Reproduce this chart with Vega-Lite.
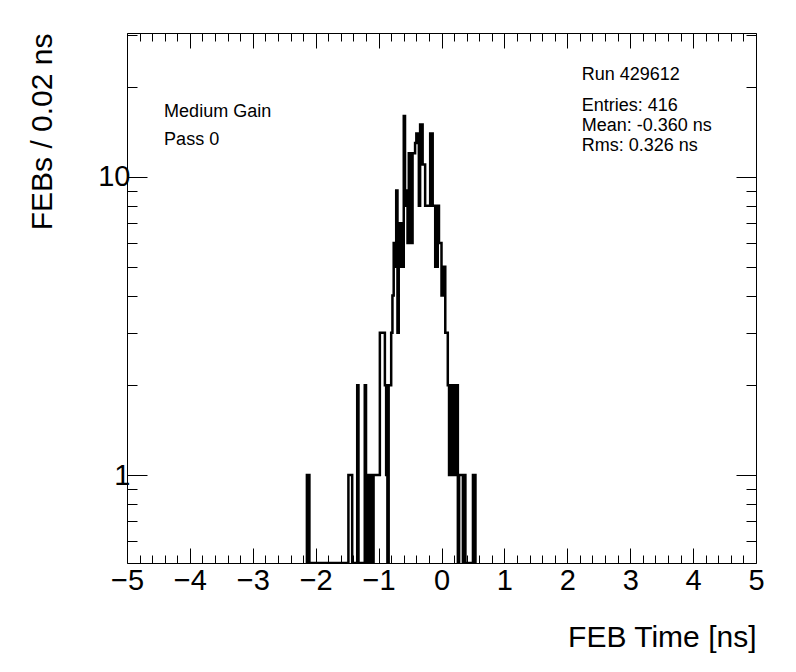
{
  "$schema": "https://vega.github.io/schema/vega-lite/v6.json",
  "width": 629,
  "height": 530,
  "autosize": "none",
  "padding": {"left": 127, "top": 33, "right": 40, "bottom": 109},
  "background": "white",
  "config": {
    "view": {"stroke": "black", "strokeWidth": 1},
    "font": "Liberation Sans",
    "axis": {
      "domain": false,
      "grid": false,
      "tickColor": "black",
      "tickWidth": 1,
      "labelColor": "black",
      "titleColor": "black",
      "labelFont": "Liberation Sans",
      "titleFont": "Liberation Sans",
      "labelFontSize": 29,
      "titleFontSize": 30,
      "titleFontWeight": "normal",
      "labelOverlap": false,
      "labelFlush": false
    }
  },
  "data": {
    "values": [
      {"t": -2.16, "n": 0}, {"t": -2.14, "n": 1}, {"t": -2.12, "n": 1}, {"t": -2.10, "n": 0},
      {"t": -1.48, "n": 1}, {"t": -1.46, "n": 1}, {"t": -1.44, "n": 1}, {"t": -1.42, "n": 0},
      {"t": -1.34, "n": 2}, {"t": -1.32, "n": 0},
      {"t": -1.22, "n": 2}, {"t": -1.20, "n": 0},
      {"t": -1.16, "n": 1}, {"t": -1.14, "n": 0}, {"t": -1.12, "n": 1}, {"t": -1.10, "n": 0},
      {"t": -1.08, "n": 1}, {"t": -1.06, "n": 1}, {"t": -1.04, "n": 1}, {"t": -1.02, "n": 1}, {"t": -1.00, "n": 1},
      {"t": -0.98, "n": 3}, {"t": -0.96, "n": 3}, {"t": -0.94, "n": 3}, {"t": -0.92, "n": 3},
      {"t": -0.90, "n": 2}, {"t": -0.88, "n": 1}, {"t": -0.86, "n": 0}, {"t": -0.84, "n": 2},
      {"t": -0.82, "n": 2}, {"t": -0.80, "n": 3}, {"t": -0.78, "n": 4}, {"t": -0.76, "n": 6},
      {"t": -0.74, "n": 5}, {"t": -0.72, "n": 9}, {"t": -0.70, "n": 3}, {"t": -0.68, "n": 7},
      {"t": -0.66, "n": 7}, {"t": -0.64, "n": 5}, {"t": -0.62, "n": 5}, {"t": -0.60, "n": 16},
      {"t": -0.58, "n": 8}, {"t": -0.56, "n": 9}, {"t": -0.54, "n": 6}, {"t": -0.52, "n": 12},
      {"t": -0.50, "n": 12}, {"t": -0.48, "n": 6}, {"t": -0.46, "n": 12}, {"t": -0.44, "n": 12},
      {"t": -0.42, "n": 13}, {"t": -0.40, "n": 14}, {"t": -0.38, "n": 14}, {"t": -0.36, "n": 8},
      {"t": -0.34, "n": 15}, {"t": -0.32, "n": 15}, {"t": -0.30, "n": 11}, {"t": -0.28, "n": 11},
      {"t": -0.26, "n": 8}, {"t": -0.24, "n": 8}, {"t": -0.22, "n": 8}, {"t": -0.20, "n": 8},
      {"t": -0.18, "n": 14}, {"t": -0.16, "n": 14}, {"t": -0.14, "n": 8}, {"t": -0.12, "n": 8},
      {"t": -0.10, "n": 5}, {"t": -0.08, "n": 5}, {"t": -0.06, "n": 8}, {"t": -0.04, "n": 6},
      {"t": -0.02, "n": 6}, {"t": 0.00, "n": 4}, {"t": 0.02, "n": 5}, {"t": 0.04, "n": 5},
      {"t": 0.06, "n": 3}, {"t": 0.08, "n": 3}, {"t": 0.10, "n": 2}, {"t": 0.12, "n": 1},
      {"t": 0.14, "n": 2}, {"t": 0.16, "n": 1}, {"t": 0.18, "n": 2}, {"t": 0.20, "n": 2},
      {"t": 0.22, "n": 1}, {"t": 0.24, "n": 2}, {"t": 0.26, "n": 0}, {"t": 0.28, "n": 1},
      {"t": 0.30, "n": 1}, {"t": 0.32, "n": 1}, {"t": 0.34, "n": 0}, {"t": 0.36, "n": 1},
      {"t": 0.38, "n": 0}, {"t": 0.50, "n": 1}, {"t": 0.52, "n": 1}, {"t": 0.54, "n": 0}
    ]
  },
  "layer": [
    {
      "mark": {"type": "line", "interpolate": "step-after", "color": "black", "strokeWidth": 2.5, "clip": true},
      "encoding": {
        "x": {
          "field": "t", "type": "quantitative",
          "scale": {"domain": [-5, 5], "nice": false, "zero": false},
          "axis": {
            "orient": "bottom",
            "values": [-5,-4.8,-4.6,-4.4,-4.2,-4,-3.8,-3.6,-3.4,-3.2,-3,-2.8,-2.6,-2.4,-2.2,-2,-1.8,-1.6,-1.4,-1.2,-1,-0.8,-0.6,-0.4,-0.2,0,0.2,0.4,0.6,0.8,1,1.2,1.4,1.6,1.8,2,2.2,2.4,2.6,2.8,3,3.2,3.4,3.6,3.8,4,4.2,4.4,4.6,4.8,5],
            "labelExpr": "abs(datum.value - round(datum.value)) < 0.001 ? format(datum.value, 'd') : ''",
            "tickSize": {"condition": {"test": "abs(datum.value - round(datum.value)) < 0.001", "value": -15}, "value": -8},
            "labelPadding": 18,
            "title": "FEB Time [ns]",
            "titleAnchor": "end",
            "titlePadding": 20
          }
        },
        "y": {
          "field": "n", "type": "quantitative",
          "scale": {"type": "log", "domain": [0.507, 30.4], "nice": false, "clamp": true},
          "axis": {
            "orient": "left",
            "values": [0.6,0.7,0.8,0.9,1,2,3,4,5,6,7,8,9,10,20,30],
            "labelExpr": "datum.value == 1 ? '1' : datum.value == 10 ? '10' : ''",
            "tickSize": {"condition": {"test": "datum.value == 1 || datum.value == 10", "value": -20}, "value": -10},
            "labelPadding": 17,
            "title": "FEBs / 0.02 ns",
            "titleAnchor": "end",
            "titlePadding": 40
          }
        }
      }
    },
    {
      "mark": {"type": "point", "opacity": 0},
      "encoding": {
        "x": {
          "field": "t", "type": "quantitative",
          "scale": {"domain": [-5, 5], "nice": false, "zero": false},
          "axis": {
            "orient": "top",
            "values": [-5,-4.8,-4.6,-4.4,-4.2,-4,-3.8,-3.6,-3.4,-3.2,-3,-2.8,-2.6,-2.4,-2.2,-2,-1.8,-1.6,-1.4,-1.2,-1,-0.8,-0.6,-0.4,-0.2,0,0.2,0.4,0.6,0.8,1,1.2,1.4,1.6,1.8,2,2.2,2.4,2.6,2.8,3,3.2,3.4,3.6,3.8,4,4.2,4.4,4.6,4.8,5],
            "labels": false,
            "tickSize": {"condition": {"test": "abs(datum.value - round(datum.value)) < 0.001", "value": -15}, "value": -8},
            "title": null
          }
        },
        "y": {
          "field": "n", "type": "quantitative",
          "scale": {"type": "log", "domain": [0.507, 30.4], "nice": false, "clamp": true},
          "axis": {
            "orient": "right",
            "values": [0.6,0.7,0.8,0.9,1,2,3,4,5,6,7,8,9,10,20,30],
            "labels": false,
            "tickSize": {"condition": {"test": "datum.value == 1 || datum.value == 10", "value": -20}, "value": -10},
            "title": null
          }
        }
      }
    },
    {
      "data": {"values": [{}]},
      "mark": {"type": "text", "text": ["Medium Gain", "Pass 0"], "align": "left", "baseline": "alphabetic", "fontSize": 18, "lineHeight": 28, "font": "Liberation Sans", "color": "black"},
      "encoding": {
        "x": {"datum": -4.41, "type": "quantitative", "axis": null},
        "y": {"datum": 15.9, "type": "quantitative", "axis": null}
      }
    },
    {
      "data": {"values": [{}]},
      "mark": {"type": "text", "text": "Run 429612", "align": "left", "baseline": "alphabetic", "fontSize": 18, "font": "Liberation Sans", "color": "black"},
      "encoding": {
        "x": {"datum": 2.23, "type": "quantitative", "axis": null},
        "y": {"datum": 21.2, "type": "quantitative", "axis": null}
      }
    },
    {
      "data": {"values": [{}]},
      "mark": {"type": "text", "text": ["Entries: 416", "Mean: -0.360 ns", "Rms: 0.326 ns"], "align": "left", "baseline": "alphabetic", "fontSize": 18, "lineHeight": 20, "font": "Liberation Sans", "color": "black"},
      "encoding": {
        "x": {"datum": 2.23, "type": "quantitative", "axis": null},
        "y": {"datum": 16.6, "type": "quantitative", "axis": null}
      }
    }
  ],
  "resolve": {"axis": {"x": "independent", "y": "independent"}}
}
